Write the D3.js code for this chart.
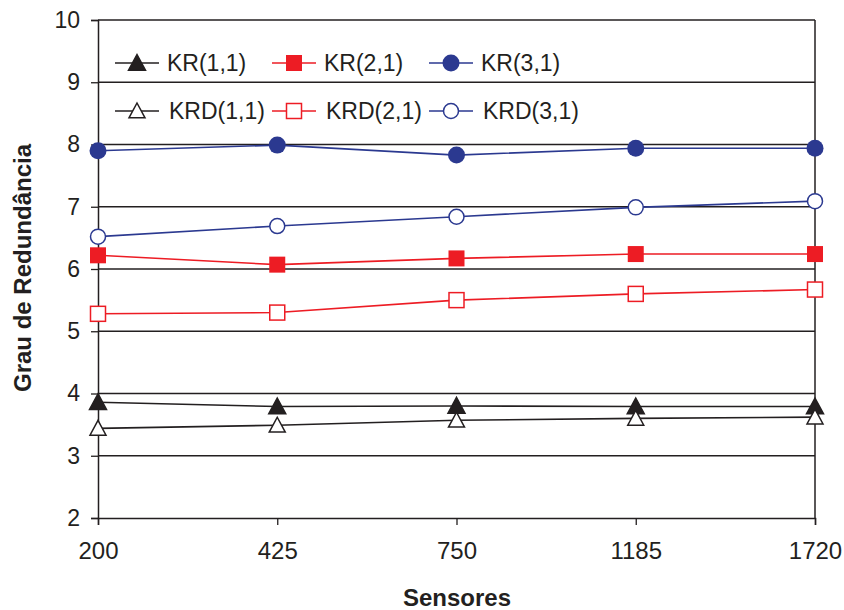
<!DOCTYPE html>
<html>
<head>
<meta charset="utf-8">
<script src="https://cdn.jsdelivr.net/npm/d3@7"></script>
<style>
  html, body { margin: 0; padding: 0; background: #fff; }
  svg { display: block; }
</style>
</head>
<body>
<svg id="chart" width="844" height="610"></svg>
<script>
// ---- data ----
const categories = ["200", "425", "750", "1185", "1720"];
const yTicks = [2, 3, 4, 5, 6, 7, 8, 9, 10];
const seriesNames = ["KR(1,1)", "KR(2,1)", "KR(3,1)", "KRD(1,1)", "KRD(2,1)", "KRD(3,1)"];
const kr11  = [3.86, 3.79, 3.80, 3.79, 3.79];
const kr21  = [6.22, 6.07, 6.17, 6.24, 6.24];
const kr31  = [7.90, 7.99, 7.83, 7.94, 7.94];
const krd11 = [3.44, 3.49, 3.57, 3.60, 3.62];
const krd21 = [5.28, 5.30, 5.50, 5.60, 5.67];
const krd31 = [6.52, 6.69, 6.84, 6.99, 7.09];
const xTitle = "Sensores";
const yTitle = "Grau de Redundância";

const BLACK = "#231f20", RED = "#ed1c24", BLUE = "#2b3990";
const series = [
  { name: seriesNames[0], values: kr11,  color: BLACK, shape: "triangle", filled: true },
  { name: seriesNames[1], values: kr21,  color: RED,   shape: "square",   filled: true },
  { name: seriesNames[2], values: kr31,  color: BLUE,  shape: "circle",   filled: true },
  { name: seriesNames[3], values: krd11, color: BLACK, shape: "triangle", filled: false },
  { name: seriesNames[4], values: krd21, color: RED,   shape: "square",   filled: false },
  { name: seriesNames[5], values: krd31, color: BLUE,  shape: "circle",   filled: false }
];

const svg = d3.select("#chart");
const pLeft = 98, pRight = 815, pTop = 20, pBottom = 518;

const x = d3.scalePoint().domain(categories).range([pLeft, pRight]).padding(0);
const y = d3.scaleLinear().domain([2, 10]).range([pBottom, pTop]);

// gridlines
svg.append("g").selectAll("line").data(yTicks.filter(d => d > 2)).join("line")
  .attr("x1", pLeft).attr("x2", pRight)
  .attr("y1", d => y(d)).attr("y2", d => y(d))
  .attr("stroke", BLACK).attr("stroke-width", 1.3);

// right border
svg.append("line").attr("x1", pRight).attr("x2", pRight).attr("y1", pTop).attr("y2", pBottom)
  .attr("stroke", BLACK).attr("stroke-width", 1.5);

// y axis
const yAxis = svg.append("g").attr("transform", `translate(${pLeft},0)`)
  .call(d3.axisLeft(y).tickValues(yTicks).tickFormat(d3.format("d")).tickSize(7).tickPadding(11));
yAxis.select(".domain").attr("stroke", BLACK).attr("stroke-width", 1.5);
yAxis.selectAll(".tick line").attr("stroke", BLACK).attr("stroke-width", 1.3);
yAxis.selectAll("text").attr("font-family", "Liberation Sans, Arial, sans-serif")
  .attr("font-size", 23).attr("fill", BLACK);

// x axis
const xAxis = svg.append("g").attr("transform", `translate(0,${pBottom})`)
  .call(d3.axisBottom(x).tickSize(7).tickPadding(17));
xAxis.select(".domain").attr("stroke", BLACK).attr("stroke-width", 1.5);
xAxis.selectAll(".tick line").attr("stroke", BLACK).attr("stroke-width", 1.3);
xAxis.selectAll("text").attr("font-family", "Liberation Sans Narrow, Arial Narrow, Liberation Sans, sans-serif")
  .attr("font-size", 24).attr("fill", BLACK);

// titles
svg.append("text").attr("x", 457).attr("y", 606)
  .attr("text-anchor", "middle").attr("font-family", "Liberation Sans, Arial, sans-serif")
  .attr("font-weight", "bold").attr("font-size", 24).attr("fill", BLACK).text(xTitle);
svg.append("text").attr("transform", "translate(31,268) rotate(-90)")
  .attr("text-anchor", "middle").attr("font-family", "Liberation Sans, Arial, sans-serif")
  .attr("font-weight", "bold").attr("font-size", 24).attr("fill", BLACK).text(yTitle);

// marker drawing
function drawMarker(g, shape, filled, color) {
  const fill = filled ? color : "#fff";
  if (shape === "triangle") {
    const s = filled ? 8.5 : 8;
    g.append("path").attr("d", `M0,${-s}L${s},${s*0.85}L${-s},${s*0.85}Z`)
      .attr("fill", fill).attr("stroke", color).attr("stroke-width", 1.5);
  } else if (shape === "square") {
    const s = filled ? 8 : 7.5;
    g.append("rect").attr("x", -s).attr("y", -s).attr("width", 2*s).attr("height", 2*s)
      .attr("fill", fill).attr("stroke", color).attr("stroke-width", filled ? 0 : 1.5);
  } else {
    g.append("circle").attr("r", filled ? 8.5 : 7.5)
      .attr("fill", fill).attr("stroke", color).attr("stroke-width", filled ? 0 : 1.5);
  }
}

// lines
const line = d3.line().x((d, i) => x(categories[i])).y(d => y(d));
series.forEach(s => {
  svg.append("path").datum(s.values).attr("d", line)
    .attr("fill", "none").attr("stroke", s.color).attr("stroke-width", 1.6);
});
series.forEach(s => {
  s.values.forEach((v, i) => {
    const g = svg.append("g").attr("transform", `translate(${x(categories[i])},${y(v)})`);
    drawMarker(g, s.shape, s.filled, s.color);
  });
});

// legend
const legendPos = [
  [115, 63], [272, 63], [429, 63],
  [115, 111], [272, 111], [429, 111]
];
series.forEach((s, i) => {
  const [lx, ly] = legendPos[i];
  svg.append("line").attr("x1", lx).attr("x2", lx + 44).attr("y1", ly).attr("y2", ly)
    .attr("stroke", s.color).attr("stroke-width", 1.6);
  const g = svg.append("g").attr("transform", `translate(${lx + 22},${ly})`);
  drawMarker(g, s.shape, s.filled, s.color);
  svg.append("text").attr("x", lx + (i < 3 ? 52 : 54)).attr("y", ly + 8)
    .attr("font-family", "Liberation Sans, Arial, sans-serif").attr("font-size", 23)
    .attr("fill", BLACK).text(s.name);
});
</script>
</body>
</html>
